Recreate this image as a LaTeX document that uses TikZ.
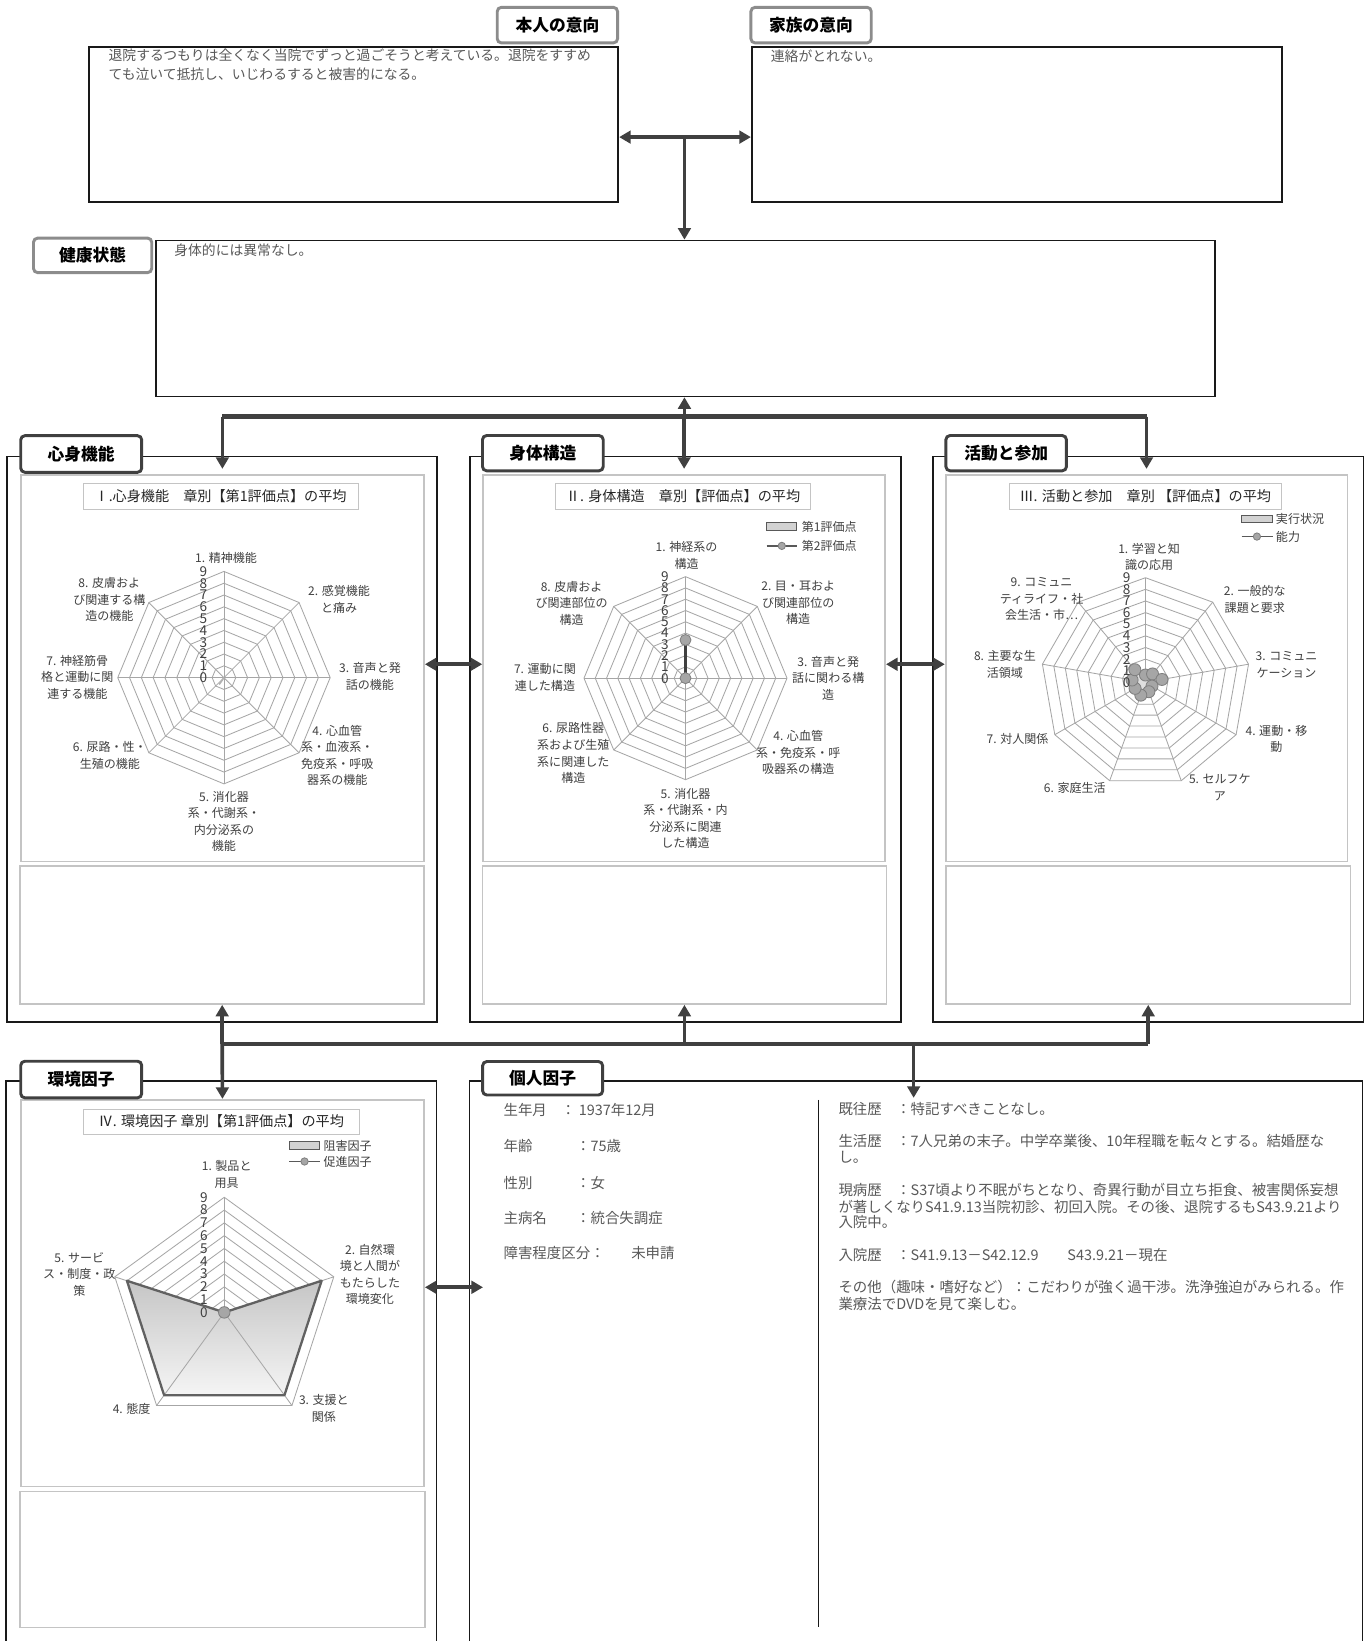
\documentclass[tikz,border=0pt]{standalone}
\usepackage{fontspec}
\setmainfont{Noto Sans CJK JP}
\usetikzlibrary{arrows.meta}
\definecolor{cgray}{HTML}{404040}
\definecolor{tabgray}{HTML}{8C8C8C}
\definecolor{tabdark}{HTML}{404040}
\definecolor{framegray}{HTML}{C4C4C4}
\definecolor{gridgray}{HTML}{A6A6A6}
\definecolor{txtgray}{HTML}{595959}
\definecolor{lblgray}{HTML}{404040}
\definecolor{markfill}{HTML}{A6A6A6}
\definecolor{markline}{HTML}{7F7F7F}
\begin{document}
\begin{tikzpicture}[x=1pt,y=-1pt,line join=miter,
  >={Triangle[length=11pt,width=12pt]},
  box/.style={draw=black!90,line width=1.6pt,anchor=north west,inner sep=0pt},
  chartframe/.style={draw=framegray,line width=1.6pt,anchor=north west,inner sep=0pt},
  toptab/.style={draw=tabgray,line width=2.8pt,fill=white,rounded corners=4pt,inner sep=0pt,font=\fontsize{16}{16}\selectfont\bfseries},
  sectab/.style={toptab,draw=tabdark},
  charttitle/.style={draw=framegray,line width=.8pt,minimum height=24pt,inner sep=0pt,text=black!85,font=\fontsize{13.5}{13.5}\selectfont},
  bodytxt/.style={anchor=west,inner sep=0pt,text=txtgray,font=\fontsize{13.2}{13.2}\selectfont},
  pf/.style={bodytxt,font=\fontsize{13.8}{13.8}\selectfont},
  axlbl/.style={align=center,inner sep=0pt,text=lblgray,font=\fontsize{11.5}{15.8}\selectfont},
  scl/.style={inner sep=0pt,text=lblgray,font=\fontsize{13}{13}\selectfont},
  lgd/.style={anchor=west,inner sep=0pt,text=lblgray,font=\fontsize{11.5}{11.5}\selectfont},
  swatch/.style={draw=black!65,fill=gray!35,line width=.9pt,minimum width=29pt,minimum height=7pt,inner sep=0pt},
  radgrid/.style={draw=gridgray,line width=.8pt},
  serline/.style={draw=markline,line width=1.6pt},
  datapt/.style={circle,fill=markfill,draw=markline,line width=.8pt,inner sep=0pt,minimum size=10.5pt},
  conn/.style={draw=cgray,line width=3.5pt},
  bus/.style={draw=cgray,line width=4.5pt}]
\useasboundingbox[fill=white] (0,0) rectangle (1307,1568);

% top boxes
\node[box,minimum width=506pt,minimum height=148pt] (honnin) at (84,44) {};
\node[box,minimum width=506.5pt,minimum height=148pt] (kazoku) at (717.5,44) {};
\node[box,minimum width=1012pt,minimum height=149pt] (kenko) at (148,229) {};
\node[toptab,minimum width=115pt,minimum height=34pt] (tab-honnin) at (532.6,24) {本人の意向};
\node[toptab,minimum width=115pt,minimum height=34pt] (tab-kazoku) at (775,24) {家族の意向};
\node[toptab,minimum width=113pt,minimum height=33pt] (tab-kenko) at (88.5,244) {健康状態};
\node[bodytxt] (tx-h1) at (103.6,53) {退院するつもりは全くなく当院でずっと過ごそうと考えている。退院をすすめ};
\node[bodytxt] (tx-h2) at (103.6,71) {ても泣いて抵抗し、いじわるすると被害的になる。};
\node[bodytxt] (tx-k1) at (736.4,53.5) {連絡がとれない。};
\node[bodytxt] (tx-e1) at (166.4,239.5) {身体的には異常なし。};

% panels
\node[box,minimum width=411pt,minimum height=540.5pt] (p-shin) at (6,435.5) {};
\node[box,minimum width=412.3pt,minimum height=540.5pt] (p-shintai) at (448,435.5) {};
\node[box,minimum width=411.5pt,minimum height=540.5pt] (p-katsu) at (890.5,435.5) {};
\draw[black!90,line width=1.6pt] (6,1568) -- (6,1032.6) -- (417,1032.6) -- (417,1568);
\draw[black!90,line width=1.6pt] (448.5,1568) -- (448.5,1032.6) -- (1302,1032.6) -- (1302,1568);

\node[chartframe,minimum width=385.4pt,minimum height=369.3pt] (f-shin) at (19,453) {};
\node[chartframe,minimum width=384.2pt,minimum height=369.3pt] (f-shintai) at (460.8,453) {};
\node[chartframe,minimum width=383.8pt,minimum height=369.3pt] (f-katsu) at (902.8,453) {};
\node[chartframe,minimum width=385.3pt,minimum height=369.7pt] (f-kankyo) at (19.1,1050) {};
\node[chartframe,minimum width=386pt,minimum height=132pt] (m-shin) at (18.5,826.5) {};
\node[chartframe,minimum width=386pt,minimum height=132pt] (m-shintai) at (460.2,826.5) {};
\node[chartframe,minimum width=386.7pt,minimum height=132pt] (m-katsu) at (903,826.5) {};
\node[chartframe,minimum width=386.5pt,minimum height=130pt] (m-kankyo) at (18.5,1424.2) {};

\node[charttitle,minimum width=262.4pt] (ti-shin) at (210.8,474.3) {Ⅰ.心身機能　章別【第1評価点】の平均};
\node[charttitle,minimum width=243.6pt] (ti-shintai) at (652.7,474.3) {Ⅱ. 身体構造　章別【評価点】の平均};
\node[charttitle,minimum width=260.2pt] (ti-katsu) at (1094.4,474.3) {Ⅲ. 活動と参加　章別 【評価点】の平均};
\node[charttitle,minimum width=263.7pt] (ti-kankyo) at (211.5,1071.6) {Ⅳ. 環境因子 章別【第1評価点】の平均};

% chart I
\begin{scope}[shift={(214,647.5)},y=1pt]
\foreach \k in {1,...,9}{\pgfmathsetmacro\rr{\k*101.5/9}
  \draw[radgrid] (90:\rr) \foreach \i in {1,...,7}{ -- ({90-45*\i}:\rr)} -- cycle;}
\foreach \i in {0,...,7} \draw[radgrid] (0,0) -- ({90-45*\i}:101.5);
\draw[gray!60,line width=1.5pt] (0,0) -- (-125:8);
\end{scope}
\foreach \k in {0,...,9} \node[scl] (s1-\k) at (194.3,{647.5-\k*101.5/9}) {\k};
\foreach \xx/\yy/\tx [count=\i] in {216/533/{1. 精神機能},324/572.6/{2. 感覚機能\\と痛み},
  353.5/646.5/{3. 音声と発\\話の機能},322.3/721.8/{4. 心血管\\系・血液系・\\免疫系・呼吸\\器系の機能},
  214/785/{5. 消化器\\系・代謝系・\\内分泌系の\\機能},105/721.8/{6. 尿路・性・\\生殖の機能},
  73.9/647/{7. 神経筋骨\\格と運動に関\\連する機能},104.5/573/{8. 皮膚およ\\び関連する構\\造の機能}}
  \node[axlbl] (l1-\i) at (\xx,\yy) {\tx};

% chart II
\begin{scope}[shift={(655,648)},y=1pt]
\foreach \k in {1,...,9}{\pgfmathsetmacro\rr{\k*97/9}
  \draw[radgrid] (90:\rr) \foreach \i in {1,...,7}{ -- ({90-45*\i}:\rr)} -- cycle;}
\foreach \i in {0,...,7} \draw[radgrid] (0,0) -- ({90-45*\i}:97);
\draw[cgray,line width=2pt] (0,0) -- (90:36.5);
\node[datapt] (d2-0) at (0,0) {};
\node[datapt] (d2-1) at (90:36.5) {};
\end{scope}
\foreach \k in {0,...,9} \node[scl] (s2-\k) at (635.3,{648-\k*97/9}) {\k};
\foreach \xx/\yy/\tx [count=\i] in {656/530.5/{1. 神経系の\\構造},762.7/576.1/{2. 目・耳およ\\び関連部位の\\構造},
  791.4/648/{3. 音声と発\\話に関わる構\\造},762.7/719.1/{4. 心血管\\系・免疫系・呼\\吸器系の構造},
  655/782.1/{5. 消化器\\系・代謝系・内\\分泌系に関連\\した構造},547.8/719.7/{6. 尿路性器\\系および生殖\\系に関連した\\構造},
  520.7/647.5/{7. 運動に関\\連した構造},546.2/576.4/{8. 皮膚およ\\び関連部位の\\構造}}
  \node[axlbl] (l2-\i) at (\xx,\yy) {\tx};
\node[swatch] (sw2) at (747,503.2) {};
\node[lgd] (lg2a) at (766,503.2) {第1評価点};
\draw[serline,draw=black!65] (732.5,521.6) -- (761.8,521.6);
\node[datapt,minimum size=7pt] (lp2) at (747,521.6) {};
\node[lgd] (lg2b) at (766,521.6) {第2評価点};

% chart III
\begin{scope}[shift={(1094.5,652)},y=1pt]
\foreach \k in {1,...,9}{\pgfmathsetmacro\rr{\k*100/9}
  \draw[radgrid] (90:\rr) \foreach \i in {1,...,8}{ -- ({90-40*\i}:\rr)} -- cycle;}
\foreach \i in {0,...,8} \draw[radgrid] (0,0) -- ({90-40*\i}:100);
\filldraw[fill=gray!25,draw=gridgray,line width=.8pt] (90:4) -- (50:6) -- (10:9) -- (-30:4) -- (-70:6) -- (-110:8) -- (-150:7) -- (170:10) -- (130:12) -- cycle;
\draw[serline] (90:7) -- (50:10.5) -- (10:16) -- (-30:7.2) -- (-70:9.5) -- (-110:13) -- (-150:11.5) -- (170:13) -- (130:15.8) -- cycle;
\foreach \a/\r [count=\i] in {90/7,50/10.5,10/16,-30/7.2,-70/9.5,-110/13,-150/11.5,170/13,130/15.8}
  \node[datapt,minimum size=11.5pt] (d3-\i) at (\a:\r) {};
\end{scope}
\foreach \k in {0,...,9} \node[scl] (s3-\k) at (1076.4,{652-\k*100/9}) {\k};
\foreach \xx/\yy/\tx [count=\i] in {1098/532.2/{1. 学習と知\\識の応用},1199/572.6/{2. 一般的な\\課題と要求},
  1229.3/635/{3. コミュニ\\ケーション},1219.7/706.2/{4. 運動・移\\動},1165.6/752.2/{5. セルフケ\\ア},
  1027/752.5/{6. 家庭生活},972.3/706/{7. 対人関係},960.2/635/{8. 主要な生\\活領域},
  995.2/572.5/{9. コミュニ\\ティライフ・社\\会生活・市…}}
  \node[axlbl] (l3-\i) at (\xx,\yy) {\tx};
\node[swatch] (sw3) at (1201,495.8) {};
\node[lgd] (lg3a) at (1219,495.8) {実行状況};
\draw[serline,draw=black!65] (1186.3,512.7) -- (1215.9,512.7);
\node[datapt,minimum size=7pt] (lp3) at (1201,512.7) {};
\node[lgd] (lg3b) at (1219,512.7) {能力};

% chart IV
\begin{scope}[shift={(214.3,1254)},y=1pt]
\foreach \k in {1,...,9}{\pgfmathsetmacro\rr{\k*110/9}
  \draw[radgrid] (90:\rr) \foreach \i in {1,...,4}{ -- ({90-72*\i}:\rr)} -- cycle;}
\shade[top color=gray!45,bottom color=gray!8] (0,0) -- (18:97.8) -- (-54:97.8) -- (-126:97.8) -- (162:97.8) -- cycle;
\foreach \i in {0,...,4} \draw[radgrid] (0,0) -- ({90-72*\i}:110);
\draw[black!62,line width=2.2pt,line join=round] (0,0) -- (18:97.8) -- (-54:97.8) -- (-126:97.8) -- (162:97.8) -- cycle;
\node[datapt,minimum size=11pt] (d4-0) at (0,0) {};
\end{scope}
\foreach \k in {0,...,9} \node[scl] (s4-\k) at (194.9,{1254-\k*110/9}) {\k};
\foreach \xx/\yy/\tx [count=\i] in {216.6/1122/{1. 製品と\\用具},353.5/1217.8/{2. 自然環\\境と人間が\\もたらした\\環境変化},
  309.5/1345.9/{3. 支援と\\関係},125.8/1346.1/{4. 態度},75.8/1217.8/{5. サービ\\ス・制度・政\\策}}
  \node[axlbl] (l4-\i) at (\xx,\yy) {\tx};
\node[swatch] (sw4) at (291,1094.6) {};
\node[lgd] (lg4a) at (309,1094.6) {阻害因子};
\draw[serline,draw=black!65] (276.4,1109.8) -- (305.7,1109.8);
\node[datapt,minimum size=7pt] (lp4) at (291,1109.8) {};
\node[lgd] (lg4b) at (309,1109.8) {促進因子};

% personal factors
\draw[black!90,line width=1pt] (782,1051) -- (782,1555);
\foreach \yy/\la/\xx/\va [count=\i] in {1060.5/生年月/536/{： 1937年12月},1095/年齢/550.3/{：75歳},
  1130/性別/550.3/{：女},1164/主病名/550.3/{：統合失調症},1197/{障害程度区分：}/603/{未申請}}
  {\node[pf] (pk-\i) at (481,\yy) {\la};
   \node[pf] (pv-\i) at (\xx,\yy) {\va};}
\foreach \yy/\tx [count=\i] in {1060/{既往歴　：特記すべきことなし。},
  1090/{生活歴　：7人兄弟の末子。中学卒業後、10年程職を転々とする。結婚歴な},1106/{し。},
  1137/{現病歴　：S37頃より不眠がちとなり、奇異行動が目立ち拒食、被害関係妄想},
  1153/{が著しくなりS41.9.13当院初診、初回入院。その後、退院するもS43.9.21より},1168/{入院中。},
  1199/{入院歴　：S41.9.13－S42.12.9　　S43.9.21－現在},
  1230/{その他（趣味・嗜好など）：こだわりが強く過干渉。洗浄強迫がみられる。作},1246/{業療法でDVDを見て楽しむ。}}
  \node[pf] (pr-\i) at (801,\yy) {\tx};

% section tabs
\node[sectab,minimum width=115.6pt,minimum height=35pt] (tab-shin) at (77.6,433.8) {心身機能};
\node[sectab,minimum width=115.4pt,minimum height=33.7pt] (tab-shintai) at (518.7,433) {身体構造};
\node[sectab,minimum width=115.2pt,minimum height=33.7pt] (tab-katsu) at (961.4,433) {活動と参加};
\node[sectab,minimum width=115.6pt,minimum height=35pt] (tab-kankyo) at (77.6,1031.5) {環境因子};
\node[sectab,minimum width=114.7pt,minimum height=32pt] (tab-kojin) at (518.5,1030.3) {個人因子};

% connectors
\coordinate (jn) at (654,131);
\draw[conn,<->] (honnin.east |- jn) -- (kazoku.west |- jn);
\draw[conn,->] (jn) -- (kenko.north -| jn);
\coordinate (bus-top) at (654,398);
\draw[conn,->] (bus-top) -- (kenko.south -| bus-top);
\draw[bus] (f-shin.north |- bus-top) -- (f-katsu.north |- bus-top);
\foreach \f in {f-shin,f-shintai,f-katsu}
  \draw[conn,->,shorten >=5pt] (\f.north |- bus-top) -- (\f.north);
\coordinate (side1) at (430,634.7);
\draw[conn,<->] (f-shin.east |- side1) -- (f-shintai.west |- side1);
\draw[conn,<->] (f-shintai.east |- side1) -- (f-katsu.west |- side1);
\coordinate (bus-bot) at (654,997.5);
\draw[bus] (m-shin.south |- bus-bot) -- (m-katsu.south |- bus-bot);
\foreach \m in {m-shin,m-shintai,m-katsu}
  \draw[conn,->] (\m.south |- bus-bot) -- (\m.south);
\draw[conn,->] (m-shin.south |- bus-bot) -- (f-kankyo.north);
\coordinate (kojin-n) at (873,1049);
\draw[conn,->] (kojin-n |- bus-bot) -- (kojin-n);
\coordinate (kojin-w) at (461.5,1230);
\draw[conn,<->] (f-kankyo.east |- kojin-w) -- (kojin-w);
\end{tikzpicture}
\end{document}
